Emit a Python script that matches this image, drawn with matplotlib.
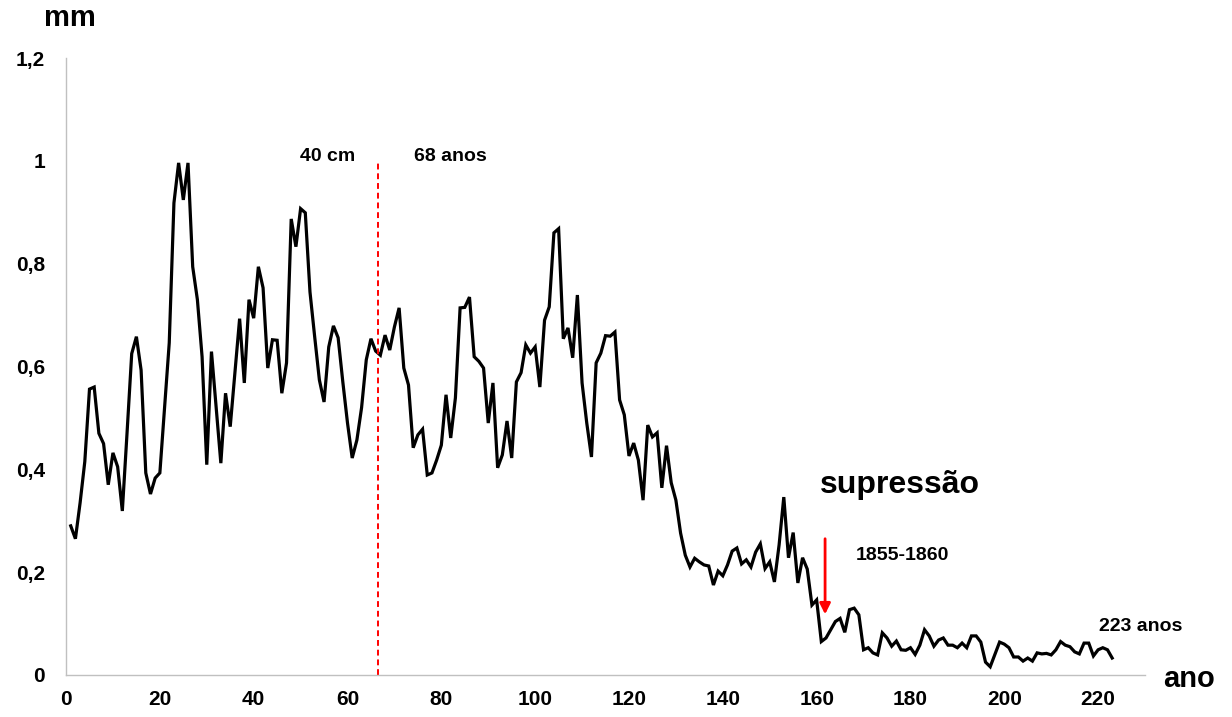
import matplotlib
matplotlib.use("Agg")
import matplotlib.pyplot as plt
from matplotlib.ticker import FuncFormatter

plt.rcParams['font.family'] = ['Liberation Sans', 'DejaVu Sans']
plt.rcParams['font.weight'] = 'bold'

# Annual ring width (mm), year 1 to 223
years = list(range(1, 224))
ring_width = [
    0.290, 0.265, 0.335, 0.415, 0.556, 0.560, 0.470, 0.450, 0.370, 0.432,
    0.405, 0.319, 0.470, 0.625, 0.658, 0.593, 0.393, 0.352, 0.383, 0.393,
    0.520, 0.646, 0.918, 0.996, 0.924, 0.996, 0.794, 0.730, 0.619, 0.409,
    0.629, 0.520, 0.412, 0.548, 0.483, 0.587, 0.693, 0.568, 0.730, 0.694,
    0.794, 0.753, 0.597, 0.652, 0.651, 0.548, 0.607, 0.887, 0.833, 0.907,
    0.899, 0.745, 0.658, 0.574, 0.531, 0.638, 0.679, 0.656, 0.570, 0.490,
    0.422, 0.457, 0.520, 0.613, 0.654, 0.630, 0.622, 0.661, 0.632, 0.677,
    0.714, 0.597, 0.564, 0.442, 0.467, 0.478, 0.389, 0.393, 0.418, 0.447,
    0.545, 0.461, 0.539, 0.714, 0.715, 0.735, 0.619, 0.610, 0.597, 0.490,
    0.568, 0.403, 0.428, 0.494, 0.422, 0.570, 0.588, 0.642, 0.626, 0.638,
    0.560, 0.690, 0.716, 0.860, 0.868, 0.654, 0.675, 0.617, 0.739, 0.568,
    0.490, 0.424, 0.607, 0.626, 0.660, 0.659, 0.667, 0.535, 0.506, 0.426,
    0.451, 0.418, 0.340, 0.486, 0.463, 0.471, 0.364, 0.446, 0.374, 0.340,
    0.276, 0.233, 0.210, 0.227, 0.220, 0.214, 0.212, 0.175, 0.202, 0.193,
    0.214, 0.241, 0.247, 0.216, 0.224, 0.210, 0.239, 0.255, 0.207, 0.220,
    0.181, 0.253, 0.346, 0.228, 0.277, 0.179, 0.228, 0.206, 0.136, 0.146,
    0.065, 0.072, 0.088, 0.104, 0.110, 0.083, 0.127, 0.130, 0.117, 0.049,
    0.053, 0.043, 0.039, 0.082, 0.072, 0.056, 0.066, 0.049, 0.048, 0.053,
    0.040, 0.058, 0.088, 0.076, 0.056, 0.068, 0.072, 0.058, 0.058, 0.053,
    0.062, 0.053, 0.076, 0.076, 0.064, 0.025, 0.016, 0.040, 0.064, 0.060,
    0.053, 0.035, 0.035, 0.027, 0.033, 0.027, 0.043, 0.041, 0.042, 0.039,
    0.049, 0.065, 0.058, 0.055, 0.045, 0.041, 0.062, 0.062, 0.037, 0.049,
    0.053, 0.049, 0.033,
]
assert len(ring_width) == len(years)

x_ticks = list(range(0, 221, 20))
y_ticks = [0, 0.2, 0.4, 0.6, 0.8, 1.0, 1.2]

marker_year = 66.4          # 40 cm / 68 anos boundary
suppression_year = 161.8    # 1855-1860 arrow

fig = plt.figure(figsize=(12.32, 7.17), dpi=100)
ax = fig.add_axes([0.0536, 0.0586, 0.8758, 0.8605])

ax.plot(years, ring_width, color='black', linewidth=2.3, solid_joinstyle='miter')

ax.set_xlim(0, 230)
ax.set_ylim(0, 1.2)
ax.set_xticks(x_ticks)
ax.set_yticks(y_ticks)

def comma_fmt(v, pos):
    if abs(v) < 1e-9:
        return '0'
    if abs(v - round(v)) < 1e-9:
        return f'{int(round(v))}'
    return f'{v:.1f}'.replace('.', ',')

ax.yaxis.set_major_formatter(FuncFormatter(comma_fmt))
ax.tick_params(axis='both', length=0, labelsize=15, colors='black')
ax.tick_params(axis='x', pad=11)
ax.tick_params(axis='y', pad=15)
for lbl in ax.get_xticklabels() + ax.get_yticklabels():
    lbl.set_fontweight('bold')

for side in ('top', 'right'):
    ax.spines[side].set_visible(False)
for side in ('left', 'bottom'):
    ax.spines[side].set_color('#c0c0c0')
    ax.spines[side].set_linewidth(1.0)

# dashed boundary
ax.plot([marker_year, marker_year], [0, 0.996], color='red',
        linestyle=(0, (3, 2)), linewidth=1.4)
ax.text(55.7, 1.008, '40 cm', ha='center', va='center', fontsize=14, fontweight='bold')
ax.text(82.0, 1.008, '68 anos', ha='center', va='center', fontsize=14, fontweight='bold')

# suppression annotation
ax.annotate('', xy=(suppression_year, 0.118), xytext=(suppression_year, 0.265),
            arrowprops=dict(arrowstyle='-|>', color='red', lw=2.0,
                            mutation_scale=16, shrinkA=0, shrinkB=0))
ax.text(177.8, 0.37, 'supressão', ha='center', va='center', fontsize=23, fontweight='bold')
ax.text(178.2, 0.232, '1855-1860', ha='center', va='center', fontsize=14, fontweight='bold')
ax.text(229.0, 0.094, '223 anos', ha='center', va='center', fontsize=14, fontweight='bold')

# axis titles
fig.text(70 / 1232, 1 - 18 / 717, 'mm', ha='center', va='center', fontsize=21, fontweight='bold')
fig.text(1189 / 1232, 1 - 679 / 717, 'ano', ha='center', va='center', fontsize=21, fontweight='bold')

fig.savefig('out.png', dpi=100)
